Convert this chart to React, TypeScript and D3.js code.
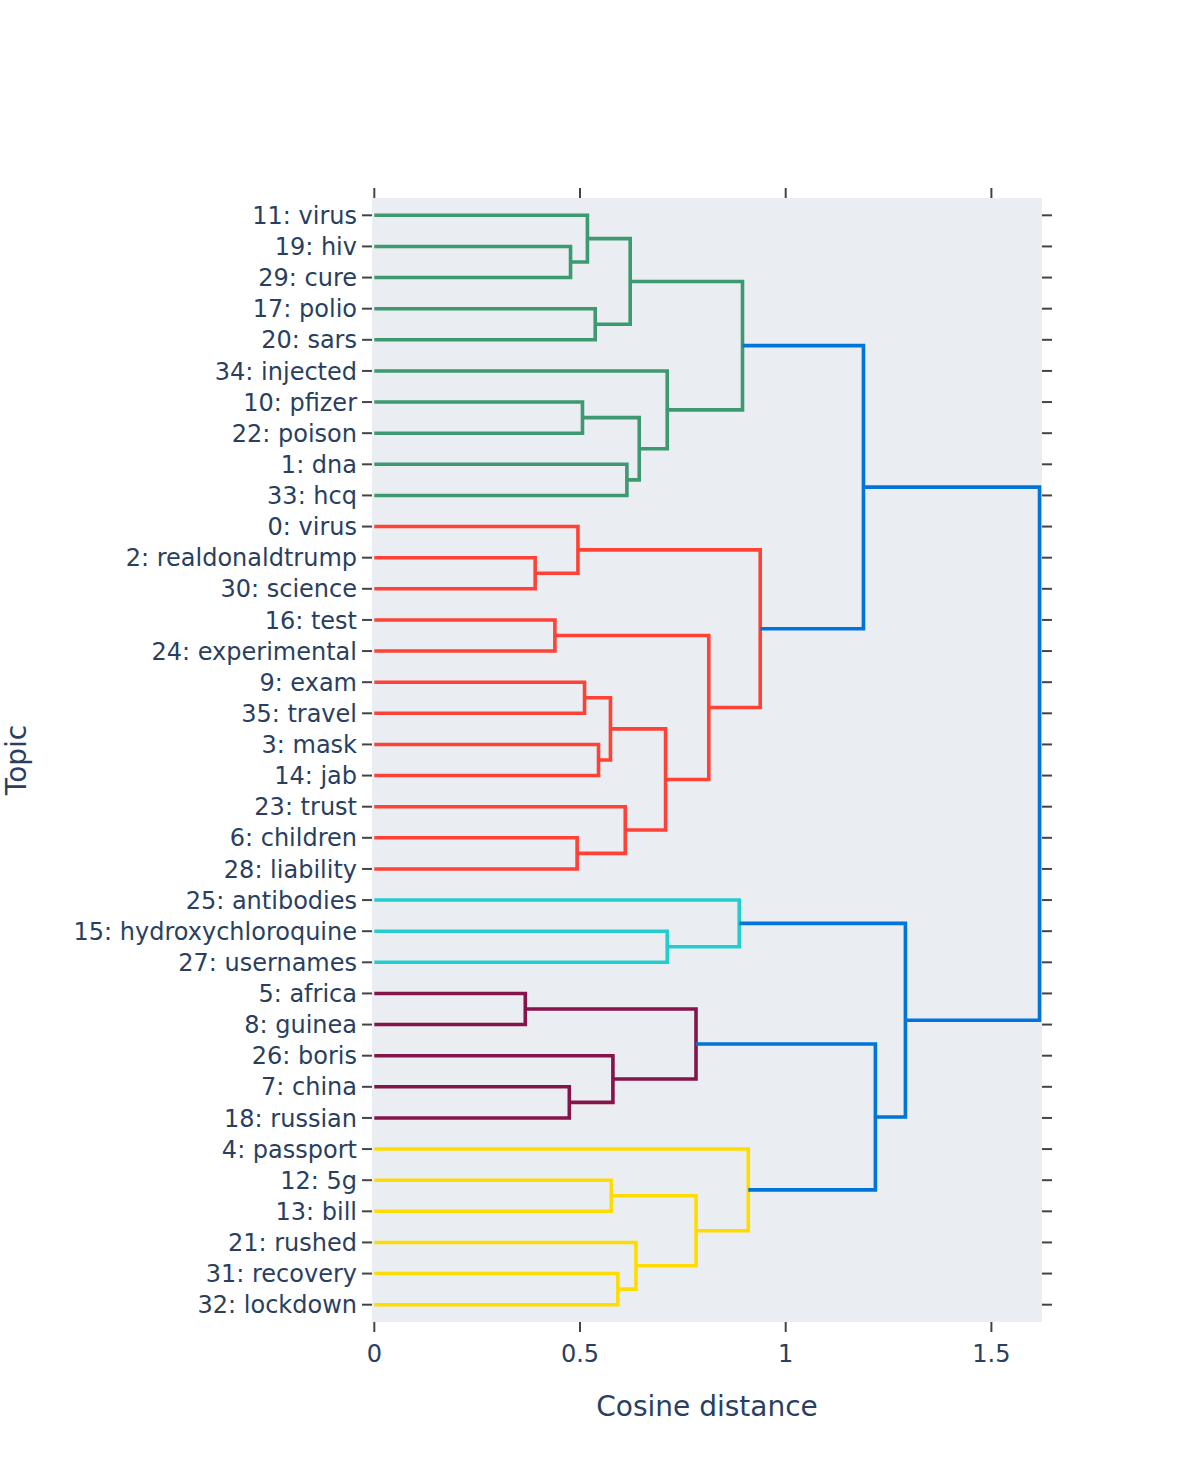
import { useMemo } from "react";
import * as d3 from "d3";

// leaf order, top to bottom
const topics = [
  "11: virus", "19: hiv", "29: cure", "17: polio", "20: sars", "34: injected",
  "10: pfizer", "22: poison", "1: dna", "33: hcq", "0: virus", "2: realdonaldtrump",
  "30: science", "16: test", "24: experimental", "9: exam", "35: travel", "3: mask",
  "14: jab", "23: trust", "6: children", "28: liability", "25: antibodies",
  "15: hydroxychloroquine", "27: usernames", "5: africa", "8: guinea", "26: boris",
  "7: china", "18: russian", "4: passport", "12: 5g", "13: bill", "21: rushed",
  "31: recovery", "32: lockdown",
];

type Merge = { id: string; a: string; b: string; d: number };

const greenMerges: Merge[] = [
  { id: "g1", a: "19: hiv", b: "29: cure", d: 0.477 },
  { id: "g2", a: "11: virus", b: "g1", d: 0.518 },
  { id: "g3", a: "17: polio", b: "20: sars", d: 0.537 },
  { id: "g4", a: "g2", b: "g3", d: 0.622 },
  { id: "g5", a: "10: pfizer", b: "22: poison", d: 0.506 },
  { id: "g6", a: "1: dna", b: "33: hcq", d: 0.614 },
  { id: "g7", a: "g5", b: "g6", d: 0.644 },
  { id: "g8", a: "34: injected", b: "g7", d: 0.712 },
  { id: "g9", a: "g4", b: "g8", d: 0.895 },
];

const redMerges: Merge[] = [
  { id: "r1", a: "2: realdonaldtrump", b: "30: science", d: 0.391 },
  { id: "r2", a: "0: virus", b: "r1", d: 0.495 },
  { id: "r3", a: "16: test", b: "24: experimental", d: 0.439 },
  { id: "r4", a: "9: exam", b: "35: travel", d: 0.511 },
  { id: "r5", a: "3: mask", b: "14: jab", d: 0.545 },
  { id: "r6", a: "r4", b: "r5", d: 0.574 },
  { id: "r7", a: "6: children", b: "28: liability", d: 0.493 },
  { id: "r8", a: "23: trust", b: "r7", d: 0.61 },
  { id: "r9", a: "r6", b: "r8", d: 0.708 },
  { id: "r10", a: "r3", b: "r9", d: 0.813 },
  { id: "r11", a: "r2", b: "r10", d: 0.938 },
];

const cyanMerges: Merge[] = [
  { id: "c1", a: "15: hydroxychloroquine", b: "27: usernames", d: 0.712 },
  { id: "c2", a: "25: antibodies", b: "c1", d: 0.887 },
];

const magentaMerges: Merge[] = [
  { id: "m1", a: "5: africa", b: "8: guinea", d: 0.367 },
  { id: "m2", a: "7: china", b: "18: russian", d: 0.474 },
  { id: "m3", a: "26: boris", b: "m2", d: 0.58 },
  { id: "m4", a: "m1", b: "m3", d: 0.782 },
];

const yellowMerges: Merge[] = [
  { id: "y1", a: "12: 5g", b: "13: bill", d: 0.576 },
  { id: "y2", a: "31: recovery", b: "32: lockdown", d: 0.592 },
  { id: "y3", a: "21: rushed", b: "y2", d: 0.636 },
  { id: "y4", a: "y1", b: "y3", d: 0.782 },
  { id: "y5", a: "4: passport", b: "y4", d: 0.909 },
];

// links above the colour threshold
const blueMerges: Merge[] = [
  { id: "b1", a: "g9", b: "r11", d: 1.189 },
  { id: "b2", a: "m4", b: "y5", d: 1.218 },
  { id: "b3", a: "c2", b: "b2", d: 1.291 },
  { id: "b4", a: "b1", b: "b3", d: 1.617 },
];

const xTicks = [0, 0.5, 1, 1.5];

const groups = [
  { color: "rgb(61,153,112)", merges: greenMerges },
  { color: "rgb(255,65,54)", merges: redMerges },
  { color: "rgb(35,205,205)", merges: cyanMerges },
  { color: "rgb(133,20,75)", merges: magentaMerges },
  { color: "rgb(255,220,0)", merges: yellowMerges },
  { color: "rgb(0,116,217)", merges: blueMerges },
];

const W = 1200;
const H = 1480;
const plot = { left: 372, right: 1042, top: 198, bottom: 1322 };
const textColor = "#2a3f5f";
const font = "'DejaVu Sans', Verdana, sans-serif";

export default function App() {
  const x = d3.scaleLinear().domain([-0.0056, 1.623]).range([plot.left, plot.right]);
  const y = d3.scaleLinear().domain([-0.556, topics.length - 0.444]).range([plot.top, plot.bottom]);

  const links = useMemo(() => {
    // position (index, height) of every leaf and cluster
    const pos = new Map<string, { i: number; d: number }>();
    topics.forEach((t, i) => pos.set(t, { i, d: 0 }));
    const all = groups.flatMap((g) => g.merges.map((m) => ({ ...m, color: g.color })));
    const out: { id: string; path: string; color: string }[] = [];
    // clusters must be resolved in dependency order
    const pending = [...all];
    while (pending.length) {
      const idx = pending.findIndex((m) => pos.has(m.a) && pos.has(m.b));
      const m = pending.splice(idx, 1)[0];
      const a = pos.get(m.a)!;
      const b = pos.get(m.b)!;
      pos.set(m.id, { i: (a.i + b.i) / 2, d: m.d });
      const p = d3.path();
      p.moveTo(x(a.d), y(a.i));
      p.lineTo(x(m.d), y(a.i));
      p.lineTo(x(m.d), y(b.i));
      p.lineTo(x(b.d), y(b.i));
      out.push({ id: m.id, path: p.toString(), color: m.color });
    }
    return out;
  }, []);

  return (
    <svg
      width={W}
      height={H}
      style={{ position: "absolute", left: 0, top: 0, background: "#fff" }}
      fontFamily={font}
    >
      <rect
        x={plot.left}
        y={plot.top}
        width={plot.right - plot.left}
        height={plot.bottom - plot.top}
        fill="#eaeef2"
      />

      {/* x ticks, top and bottom */}
      {xTicks.map((t) => (
        <g key={t}>
          <line x1={x(t)} x2={x(t)} y1={plot.top - 10} y2={plot.top} stroke="#444" strokeWidth={2} />
          <line x1={x(t)} x2={x(t)} y1={plot.bottom} y2={plot.bottom + 10} stroke="#444" strokeWidth={2} />
          <text x={x(t)} y={plot.bottom + 40} textAnchor="middle" fontSize={24} fill={textColor}>
            {String(t)}
          </text>
        </g>
      ))}

      {/* y ticks and topic labels */}
      {topics.map((t, i) => (
        <g key={t}>
          <line x1={plot.left - 10} x2={plot.left} y1={y(i)} y2={y(i)} stroke="#444" strokeWidth={2} />
          <line x1={plot.right} x2={plot.right + 10} y1={y(i)} y2={y(i)} stroke="#444" strokeWidth={2} />
          <text x={plot.left - 15} y={y(i)} dy="0.36em" textAnchor="end" fontSize={24} fill={textColor}>
            {t}
          </text>
        </g>
      ))}

      {links.map((l) => (
        <path key={l.id} d={l.path} fill="none" stroke={l.color} strokeWidth={3.6} />
      ))}

      <text x={(plot.left + plot.right) / 2} y={1416} textAnchor="middle" fontSize={28} fill={textColor}>
        Cosine distance
      </text>
      <text
        transform={`translate(26,${(plot.top + plot.bottom) / 2}) rotate(-90)`}
        textAnchor="middle"
        fontSize={28}
        fill={textColor}
      >
        Topic
      </text>
    </svg>
  );
}
